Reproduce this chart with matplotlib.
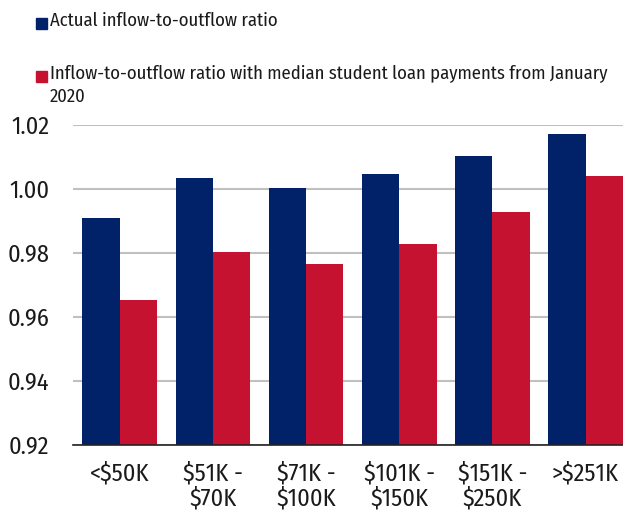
import numpy as np
import matplotlib.pyplot as plt
from matplotlib.patches import Rectangle

plt.rcParams['font.family'] = ['Fira Sans Condensed', 'Roboto Condensed', 'DejaVu Sans']

# Data
categories = ['<$50K', '$51K -\n$70K', '$71K -\n$100K', '$101K -\n$150K', '$151K -\n$250K', '>$251K']
actual = [0.9910, 1.0035, 1.0004, 1.0048, 1.0104, 1.0173]
with_loans = [0.9654, 0.9804, 0.9766, 0.9829, 0.9929, 1.0041]
series_labels = ['Actual inflow-to-outflow ratio',
                 'Inflow-to-outflow ratio with median student loan payments from January\n2020']
yticks = [0.92, 0.94, 0.96, 0.98, 1.00, 1.02]

navy = '#012169'
red = '#c41230'
txt = '#1a1a1a'

fig = plt.figure(figsize=(6.23, 5.12), dpi=100)
ax = fig.add_axes([73 / 623, 1 - 445 / 512, 1 - 73 / 623, (445 - 125.3) / 512])

x = np.arange(len(categories))
w = 0.4
ax.bar(x - w / 2, actual, w, color=navy, zorder=3)
ax.bar(x + w / 2, with_loans, w, color=red, zorder=3)

ax.set_ylim(0.92, 1.02)
ax.set_xlim(-0.5, 5.4)
ax.set_yticks(yticks)
ax.set_yticklabels([f'{v:.2f}' for v in yticks])
ax.set_xticks(x)
ax.set_xticklabels(categories, linespacing=1.1)
ax.grid(axis='y', color='#c0c0c0', linewidth=1.5, zorder=0)
ax.tick_params(axis='both', length=0, labelsize=17.5, colors=txt)
ax.tick_params(axis='x', pad=12)
ax.tick_params(axis='y', pad=17)
for s in ['top', 'right', 'left']:
    ax.spines[s].set_visible(False)
ax.spines['bottom'].set_color('#222222')
ax.spines['bottom'].set_linewidth(1.2)
ax.spines['bottom'].set_zorder(4)

# legend drawn at the top
for i, (lab, col) in enumerate(zip(series_labels, [navy, red])):
    ymid = [23, 76][i]
    fig.patches.append(Rectangle((36 / 623, 1 - (ymid + 6) / 512), 11 / 623, 11 / 512,
                                 transform=fig.transFigure, color=col))
    fig.text(50 / 623, 1 - (ymid - 11) / 512, lab, fontsize=13.4, color=txt,
             va='top', ha='left', linespacing=1.32)

fig.savefig('out.png', dpi=100)
